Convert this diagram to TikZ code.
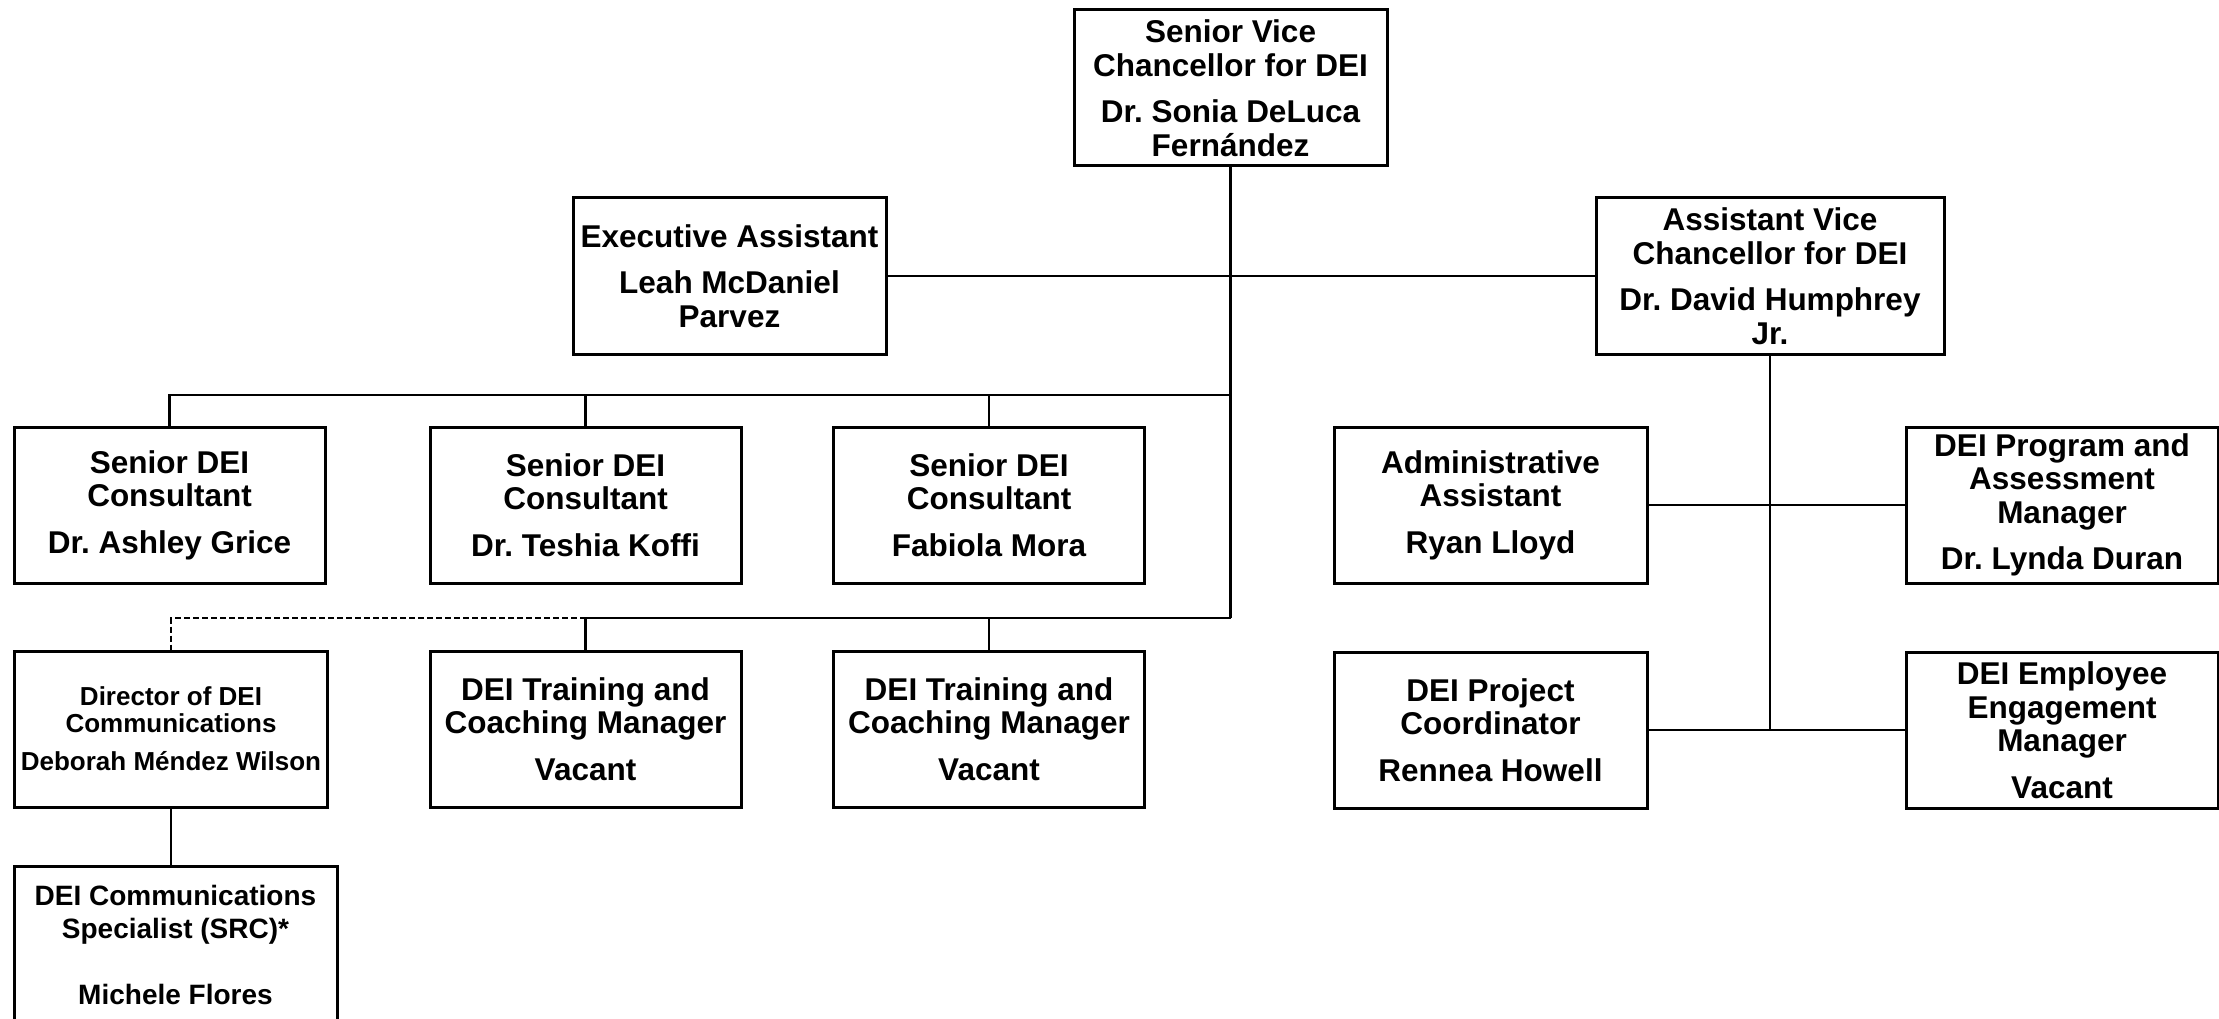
\documentclass[tikz,border=0pt]{standalone}
\usepackage{fontspec}
\setmainfont{Liberation Sans}
\frenchspacing
\tikzstyle{post}=[draw, line width=3pt, align=center, inner sep=0pt, minimum width=313pt, minimum height=156pt, fill=white, font=\bfseries\fontsize{31.5}{33.5}\selectfont]
\tikzstyle{link}=[line width=2.8pt]
\newcommand{\post}{\node[post]}
\begin{document}
\begin{tikzpicture}[x=1pt,y=-1pt]
\useasboundingbox[fill=white] (0,0) rectangle (2219,1019);
%%top posts
\post (svc) at (1230.5,88) {Senior Vice\\Chancellor for DEI\\[13pt]Dr. Sonia DeLuca\\Fernández};
\post (exa) at (729.5,276) {Executive Assistant\\[13pt]Leah McDaniel\\Parvez};
\post[minimum width=348pt] (avc) at (1770,276) {Assistant Vice\\Chancellor for DEI\\[13pt]Dr. David Humphrey\\Jr.};
%%consultants and managers
\foreach \x/\who [count=\i] in {169.5/Dr. Ashley Grice, 585.5/Dr. Teshia Koffi, 989/Fabiola Mora}{
	\post[minimum width=311pt] (sdc\i) at (\x,505) {Senior DEI\\Consultant\\[13pt]\who};
	}
\foreach \x [count=\i] in {585.5,989}{
	\post[minimum width=311pt] (trn\i) at (\x,729) {DEI Training and\\Coaching Manager\\[13pt]Vacant};
	}
\post[font=\bfseries\fontsize{26}{27}\selectfont] (dir) at (171,729) {Director of DEI\\Communications\\[11pt]Deborah Méndez Wilson};
\post[minimum width=323pt, minimum height=158pt, font=\bfseries\fontsize{28}{33}\selectfont] (spc) at (175.5,945) {DEI Communications\\Specialist (SRC)*\\ \\Michele Flores};
%%AVC side
\post (adm) at (1490.5,505) {Administrative\\Assistant\\[13pt]Ryan Lloyd};
\post[minimum width=312pt] (prg) at (2062,505) {DEI Program and\\Assessment\\Manager\\[13pt]Dr. Lynda Duran};
\post (prj) at (1490.5,730) {DEI Project\\Coordinator\\[13pt]Rennea Howell};
\post[minimum width=312pt] (emp) at (2062,730) {DEI Employee\\Engagement\\Manager\\[13pt]Vacant};
\coordinate (hubA) at (1230.5,395);
\coordinate (hubB) at (1230.5,618);
\coordinate (hubC) at (1770,730);
%%lines
\begin{scope}[link]
\draw (svc) -- (hubB) (exa) -- (avc);
\foreach \i in {1,2,3}{\draw (hubA) -| (sdc\i);}
\foreach \i in {1,2}{\draw (hubB) -| (trn\i);}
\draw[dashed, dash pattern=on 6pt off 3pt] (trn1.north |- hubB) -| (dir);
\draw (dir) -- (dir.south |- spc.north);
\draw (avc) -- (hubC) (adm) -- (prg) (prj) -- (emp);
\end{scope}
\end{tikzpicture}
\end{document}
